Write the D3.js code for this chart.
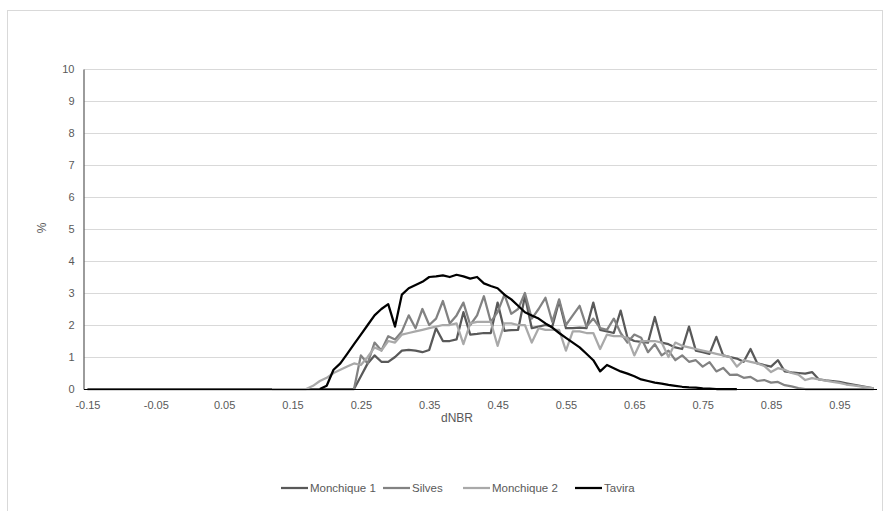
<!DOCTYPE html>
<html>
<head>
<meta charset="utf-8">
<title>dNBR</title>
<script src="https://cdn.jsdelivr.net/npm/d3@7"></script>
<style>
  * { margin: 0; padding: 0; }
  body { background: white; }
  svg { display: block; font-family: "Liberation Sans", Arial, sans-serif; }
  .tick text { fill: #595959; font-size: 11px; }
</style>
</head>
<body>
<svg id="chart" width="884" height="511"></svg>
<script>
// dNBR categories, step 0.01 from -0.15 to 1.00
var categories = d3.range(-15, 101).map(function(d){ return d / 100; });
var xTickLabels = ["-0.15","-0.05","0.05","0.15","0.25","0.35","0.45","0.55","0.65","0.75","0.85","0.95"];
var yTicks = [0,1,2,3,4,5,6,7,8,9,10];

// each series: first dNBR value, then one value per 0.01
var monchique1Start = -0.15;
var monchique1 = [
  0,0,0,0,0,0,0,0,0,0, 0,0,0,0,0,0,0,0,0,0, 0,0,0,0,0,0,0,0,0,0, 0,0,0,0,0,0,0,0,0,
  0, 0.4, 0.8, 1.05, 0.85, 0.85, 1.0, 1.2, 1.22, 1.2,
  1.15, 1.22, 1.9, 1.5, 1.5, 1.55, 2.4, 1.7, 1.72, 1.75,
  1.75, 2.7, 1.82, 1.84, 1.85, 2.9, 1.9, 1.95, 2.0, 1.95,
  2.75, 1.9, 1.9, 1.92, 1.9, 2.7, 1.85, 1.8, 1.75, 2.45,
  1.6, 1.5, 1.47, 1.45, 2.25, 1.45, 1.4, 1.3, 1.25, 1.95,
  1.2, 1.15, 1.1, 1.63, 1.05, 1.0, 0.95, 0.85, 1.25, 0.8,
  0.75, 0.7, 0.9, 0.55, 0.52, 0.5, 0.48, 0.53, 0.3, 0.27,
  0.25, 0.22, 0.18, 0.14, 0.1, 0.06, 0.02
];

var silvesStart = 0.24;
var silves = [
  0, 1.05, 0.8, 1.45, 1.2, 1.65, 1.55, 1.8, 2.3, 1.9,
  2.5, 2.0, 2.2, 2.75, 2.05, 2.3, 2.7, 2.0, 2.3, 2.9,
  2.1, 2.4, 2.95, 2.35, 2.5, 3.0, 2.2, 2.5, 2.85, 2.1,
  2.8, 2.0, 2.3, 2.6, 1.95, 2.2, 1.9, 1.85, 2.2, 1.75,
  1.45, 1.7, 1.6, 1.15, 1.4, 1.05, 1.2, 0.9, 1.05, 0.85,
  0.9, 0.7, 0.84, 0.55, 0.66, 0.44, 0.45, 0.35, 0.38, 0.25,
  0.28, 0.2, 0.22, 0.12, 0.08, 0.03, 0, 0, 0, 0,
  0, 0, 0, 0, 0, 0, 0
];

var monchique2Start = 0.12;
var monchique2 = [
  0, 0, 0, 0, 0, 0, 0.1, 0.25, 0.35, 0.5,
  0.6, 0.7, 0.8, 0.75, 1.0, 1.3, 1.2, 1.5, 1.45, 1.7,
  1.75, 1.8, 1.85, 1.9, 1.95, 2.0, 2.0, 2.05, 1.4, 2.05,
  2.1, 2.1, 2.1, 1.35, 2.05, 2.05, 2.0, 2.0, 1.45, 1.9,
  1.85, 1.85, 1.85, 1.2, 1.8, 1.8, 1.75, 1.75, 1.25, 1.7,
  1.65, 1.65, 1.6, 1.05, 1.5, 1.5, 1.5, 1.45, 1.0, 1.45,
  1.35, 1.3, 1.25, 1.2, 1.15, 1.1, 1.05, 1.0, 0.7, 0.9,
  0.85, 0.8, 0.72, 0.53, 0.65, 0.6, 0.5, 0.45, 0.28, 0.34,
  0.3, 0.26, 0.22, 0.19, 0.14, 0.11, 0.08, 0.05, 0.02
];

var taviraStart = 0.19;
var tavira = [
  0, 0.1, 0.6, 0.8, 1.1, 1.4, 1.7, 2.0, 2.3, 2.5,
  2.65, 1.95, 2.95, 3.15, 3.25, 3.35, 3.5, 3.52, 3.55, 3.5,
  3.57, 3.52, 3.45, 3.5, 3.3, 3.22, 3.15, 2.95, 2.8, 2.6,
  2.4, 2.3, 2.2, 2.05, 1.92, 1.75, 1.6, 1.45, 1.3, 1.1,
  0.9, 0.55, 0.75, 0.65, 0.55, 0.48, 0.4, 0.3, 0.25, 0.2,
  0.17, 0.13, 0.1, 0.07, 0.05, 0.04, 0.02, 0.01, 0, 0,
  0, 0
];

var seriesNames = ["Monchique 1", "Silves", "Monchique 2", "Tavira"];
var seriesColors = ["#595959", "#828282", "#a9a9a9", "#000000"];

function toPoints(start, values){
  return values.map(function(v, i){
    return { x: Math.round((start + i * 0.01) * 100) / 100, y: v };
  });
}
var series = [
  toPoints(monchique1Start, monchique1),
  toPoints(silvesStart, silves),
  toPoints(monchique2Start, monchique2),
  toPoints(taviraStart, tavira)
];

var svg = d3.select("#chart");

// chart frame
svg.append("rect")
  .attr("x", 7.5).attr("y", 10.5)
  .attr("width", 875).attr("height", 520)
  .attr("fill", "white").attr("stroke", "#d9d9d9");

var plotLeft = 84, plotRight = 877, plotTop = 69, plotBottom = 389;
var half = (plotRight - plotLeft) / categories.length / 2;

var x = d3.scaleLinear()
  .domain([categories[0], categories[categories.length - 1]])
  .range([plotLeft + half, plotRight - half]);
var y = d3.scaleLinear().domain([0, 10]).range([plotBottom, plotTop]);

// gridlines
svg.append("g").selectAll("line")
  .data(yTicks.slice(1))
  .enter().append("line")
  .attr("x1", plotLeft).attr("x2", plotRight)
  .attr("y1", function(d){ return y(d) + 0.5; })
  .attr("y2", function(d){ return y(d) + 0.5; })
  .attr("stroke", "#d9d9d9").attr("stroke-width", 1);

// y axis
var yAxis = svg.append("g")
  .attr("transform", "translate(" + (plotLeft - 0.5) + ",0)")
  .call(d3.axisLeft(y).tickValues(yTicks).tickSize(0).tickPadding(9).tickSizeOuter(0));
yAxis.select(".domain").attr("stroke", "#595959").attr("stroke-width", 1.2);

// series lines
var line = d3.line()
  .x(function(d){ return x(d.x); })
  .y(function(d){ return y(d.y); });

svg.append("g").selectAll("path")
  .data(series)
  .enter().append("path")
  .attr("d", line)
  .attr("fill", "none")
  .attr("stroke", function(d, i){ return seriesColors[i]; })
  .attr("stroke-width", 2.25)
  .attr("stroke-linejoin", "round");

// x axis
var xAxis = svg.append("g")
  .attr("transform", "translate(0," + (plotBottom + 0.5) + ")")
  .call(d3.axisBottom(x)
    .tickValues(xTickLabels.map(Number))
    .tickFormat(function(d){ return d.toFixed(2); })
    .tickSize(0).tickPadding(12));
xAxis.select(".domain").remove();
svg.append("line")
  .attr("x1", plotLeft).attr("x2", plotRight)
  .attr("y1", plotBottom + 0.5).attr("y2", plotBottom + 0.5)
  .attr("stroke", "#000").attr("stroke-width", 1);

// axis titles
svg.append("text")
  .attr("transform", "translate(46,228) rotate(-90)")
  .attr("text-anchor", "middle")
  .attr("fill", "#595959").attr("font-size", 12)
  .text("%");
svg.append("text")
  .attr("x", 457).attr("y", 422)
  .attr("text-anchor", "middle")
  .attr("fill", "#595959").attr("font-size", 12)
  .text("dNBR");

// legend
var legendX = [281, 383, 463, 575];
var legend = svg.append("g").selectAll("g")
  .data(seriesNames)
  .enter().append("g")
  .attr("transform", function(d, i){ return "translate(" + legendX[i] + ",488)"; });
legend.append("line")
  .attr("x1", 0).attr("x2", 27).attr("y1", 0).attr("y2", 0)
  .attr("stroke", function(d, i){ return seriesColors[i]; })
  .attr("stroke-width", 2.25);
legend.append("text")
  .attr("x", 29).attr("y", 4)
  .attr("fill", "#595959").attr("font-size", 11.5)
  .text(function(d){ return d; });
</script>
</body>
</html>
